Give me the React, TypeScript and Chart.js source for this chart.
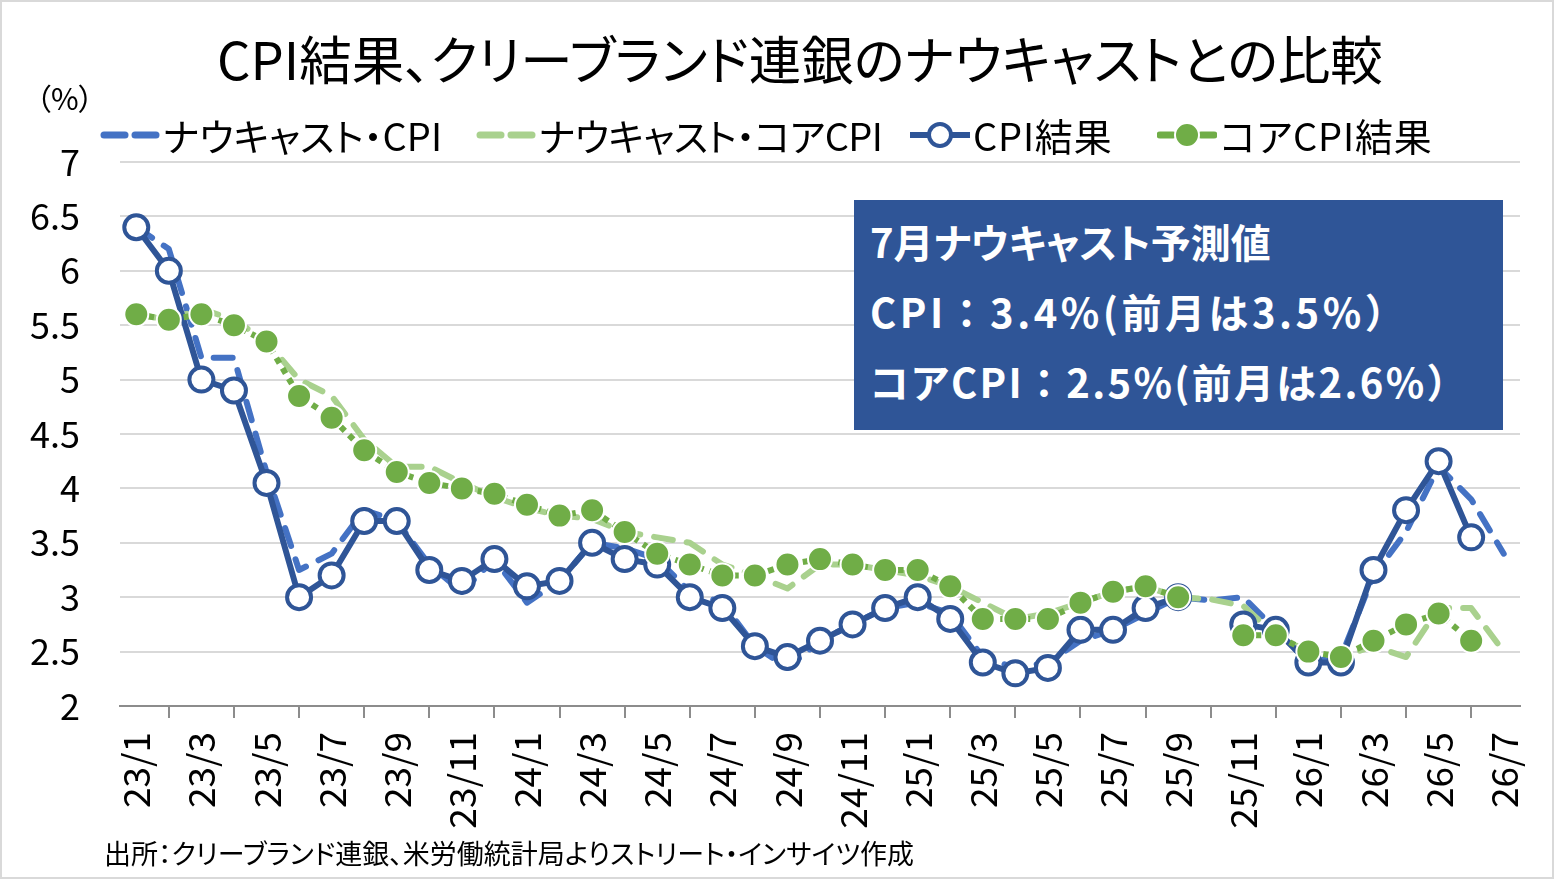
import React, { useEffect, useRef } from "react";
import { Chart, registerables } from "chart.js";

Chart.register(...registerables);

// ---- data ----
const categories = [
  "23/1", "23/2", "23/3", "23/4", "23/5", "23/6", "23/7", "23/8", "23/9", "23/10", "23/11", "23/12",
  "24/1", "24/2", "24/3", "24/4", "24/5", "24/6", "24/7", "24/8", "24/9", "24/10", "24/11", "24/12",
  "25/1", "25/2", "25/3", "25/4", "25/5", "25/6", "25/7", "25/8", "25/9", "25/10", "25/11", "25/12",
  "26/1", "26/2", "26/3", "26/4", "26/5", "26/6", "26/7",
];

const nowcastCpi = [
  6.4, 6.2, 5.2, 5.2, 4.15, 3.25, 3.4, 3.8, 3.7, 3.3, 3.05, 3.35,
  2.95, 3.15, 3.5, 3.45, 3.35, 3.05, 2.95, 2.55, 2.35, 2.6, 2.75, 2.9,
  2.95, 2.85, 2.45, 2.35, 2.4, 2.6, 2.7, 2.85, 3.0, 2.97, 3.0, 2.7,
  2.4, 2.45, 3.2, 3.6, 4.2, 3.9, 3.4,
];

const nowcastCore = [
  5.6, 5.55, 5.65, 5.55, 5.35, 5.0, 4.85, 4.45, 4.2, 4.2, 4.05, 3.92,
  3.82, 3.75, 3.72, 3.6, 3.55, 3.5, 3.3, 3.2, 3.08, 3.3, 3.3, 3.25,
  3.2, 3.1, 2.95, 2.8, 2.85, 2.95, 3.05, 3.1, 3.0, 2.98, 2.92, 2.65,
  2.5, 2.45, 2.55, 2.45, 2.9, 2.9, 2.5,
];

const cpiResult = [
  6.4, 6.0, 5.0, 4.9, 4.05, 3.0, 3.2, 3.7, 3.7, 3.25, 3.15, 3.35,
  3.1, 3.15, 3.5, 3.35, 3.3, 3.0, 2.9, 2.55, 2.45, 2.6, 2.75, 2.9,
  3.0, 2.8, 2.4, 2.3, 2.35, 2.7, 2.7, 2.9, 3.0, null, 2.75, 2.7,
  2.4, 2.4, 3.25, 3.8, 4.25, 3.55, null,
];

const coreResult = [
  5.6, 5.55, 5.6, 5.5, 5.35, 4.85, 4.65, 4.35, 4.15, 4.05, 4.0, 3.95,
  3.85, 3.75, 3.8, 3.6, 3.4, 3.3, 3.2, 3.2, 3.3, 3.35, 3.3, 3.25,
  3.25, 3.1, 2.8, 2.8, 2.8, 2.95, 3.05, 3.1, 3.0, null, 2.65, 2.65,
  2.5, 2.45, 2.6, 2.75, 2.85, 2.6, null,
];

const yMin = 2;
const yMax = 7;
const yStep = 0.5;

const seriesLabels = ["ナウキャスト・CPI", "ナウキャスト・コアCPI", "CPI結果", "コアCPI結果"];
const titleText = "CPI結果、クリーブランド連銀のナウキャストとの比較";
const unitText = "（%）";
const boxTitle = "7月ナウキャスト予測値";
const boxLine2 = "CPI：3.4%(前月は3.5%）";
const boxLine3Prefix = "コア";
const boxLine3 = "CPI：2.5%(前月は2.6%）";
const sourceText = "出所：クリーブランド連銀、米労働統計局よりストリート・インサイツ作成";

// ---- style ----
const FONT = "'Noto Sans CJK JP', 'Noto Sans', sans-serif";
const C_NOW_CPI = "#4472C4";
const C_NOW_CORE = "#A9D18E";
const C_CPI = "#2F5597";
const C_CORE = "#70AD47";

function LegendSymbol({ kind }: { kind: number }) {
  if (kind === 0 || kind === 1) {
    const c = kind === 0 ? C_NOW_CPI : C_NOW_CORE;
    return (
      <svg width="60" height="20" style={{ display: "block" }}>
        <line x1="4" y1="10" x2="25" y2="10" stroke={c} strokeWidth="7" strokeLinecap="round" />
        <line x1="35" y1="10" x2="56" y2="10" stroke={c} strokeWidth="7" strokeLinecap="round" />
      </svg>
    );
  }
  if (kind === 2) {
    return (
      <svg width="60" height="32" style={{ display: "block" }}>
        <line x1="0" y1="16" x2="60" y2="16" stroke={C_CPI} strokeWidth="6" />
        <circle cx="30" cy="16" r="11" fill="#fff" stroke={C_CPI} strokeWidth="4" />
      </svg>
    );
  }
  return (
    <svg width="60" height="32" style={{ display: "block" }}>
      <line x1="3" y1="16" x2="16" y2="16" stroke={C_CORE} strokeWidth="7" strokeLinecap="round" />
      <line x1="44" y1="16" x2="57" y2="16" stroke={C_CORE} strokeWidth="7" strokeLinecap="round" />
      <circle cx="30" cy="16" r="12" fill={C_CORE} stroke="#fff" strokeWidth="2" />
    </svg>
  );
}

export default function App() {
  const canvasRef = useRef<HTMLCanvasElement | null>(null);

  useEffect(() => {
    const canvas = canvasRef.current;
    if (!canvas) return;
    const chart = new Chart(canvas, {
      type: "line",
      data: {
        labels: categories,
        datasets: [
          {
            label: seriesLabels[0],
            data: nowcastCpi,
            borderColor: C_NOW_CPI,
            borderWidth: 6,
            borderDash: [19, 14],
            borderCapStyle: "round",
            borderJoinStyle: "round",
            pointRadius: 0,
            pointHoverRadius: 0,
            fill: false,
            tension: 0,
            order: 4,
          },
          {
            label: seriesLabels[1],
            data: nowcastCore,
            borderColor: C_NOW_CORE,
            borderWidth: 6,
            borderDash: [19, 14],
            borderCapStyle: "round",
            borderJoinStyle: "round",
            pointRadius: 0,
            pointHoverRadius: 0,
            fill: false,
            tension: 0,
            order: 3,
          },
          {
            label: seriesLabels[2],
            data: cpiResult,
            borderColor: C_CPI,
            borderWidth: 6,
            borderJoinStyle: "round",
            pointRadius: 12,
            pointHoverRadius: 12,
            pointBorderWidth: 4,
            pointBackgroundColor: "#ffffff",
            pointBorderColor: C_CPI,
            spanGaps: false,
            fill: false,
            tension: 0,
            order: 2,
          },
          {
            label: seriesLabels[3],
            data: coreResult,
            borderColor: C_CORE,
            borderWidth: 6,
            borderDash: [6, 6],
            pointRadius: 12,
            pointHoverRadius: 12,
            pointBorderWidth: 2,
            pointBackgroundColor: C_CORE,
            pointBorderColor: "#ffffff",
            spanGaps: false,
            fill: false,
            tension: 0,
            order: 1,
          },
        ],
      },
      options: {
        animation: false,
        responsive: false,
        devicePixelRatio: 1,
        events: [],
        layout: { padding: { left: 0, right: 34, top: 162, bottom: 0 } },
        plugins: {
          legend: { display: false },
          title: { display: false },
          tooltip: { enabled: false },
        },
        scales: {
          x: {
            type: "category",
            offset: true,
            afterFit: (scale: any) => {
              scale.height = 173;
              scale.paddingLeft = 0;
              scale.paddingRight = 0;
            },
            grid: {
              display: true,
              offset: true,
              drawOnChartArea: false,
              drawTicks: true,
              tickLength: 12,
              color: "#8c8c8c",
              lineWidth: 2,
            },
            border: { display: true, color: "#8c8c8c", width: 2 },
            ticks: {
              autoSkip: false,
              minRotation: 90,
              maxRotation: 90,
              padding: 14,
              color: "#000000",
              font: { family: FONT, size: 37 },
              callback: (_v: any, i: number) => (i % 2 === 0 ? categories[i] : null),
            },
          },
          y: {
            min: yMin,
            max: yMax,
            afterFit: (scale: any) => {
              scale.width = 120;
            },
            grid: {
              color: "#d9d9d9",
              lineWidth: 2,
              drawTicks: false,
            },
            border: { display: false },
            ticks: {
              stepSize: yStep,
              padding: 40,
              color: "#000000",
              font: { family: FONT, size: 36 },
              callback: (v: any) => String(Number(v)),
            },
          },
        },
      },
    });
    return () => chart.destroy();
  }, []);

  const legendLefts = [100, 476, 910, 1157];

  return (
    <div
      style={{
        position: "absolute",
        left: 0,
        top: 0,
        width: 1554,
        height: 879,
        background: "#ffffff",
        overflow: "hidden",
        fontFamily: FONT,
      }}
    >
      <canvas ref={canvasRef} width={1554} height={879} style={{ position: "absolute", left: 0, top: 0 }} />
      <div
        style={{
          position: "absolute",
          left: 0,
          top: 0,
          width: 1554,
          height: 879,
          boxSizing: "border-box",
          border: "2px solid #d9d9d9",
          pointerEvents: "none",
        }}
      />
      <div
        style={{
          position: "absolute",
          left: 0,
          width: 1600,
          top: 22,
          textAlign: "center",
          fontSize: 52.5,
          lineHeight: "70px",
          color: "#000",
          whiteSpace: "nowrap",
          fontFeatureSettings: "'palt'",
        }}
      >
        {titleText}
      </div>
      <div
        style={{
          position: "absolute",
          left: 36,
          top: 80,
          fontSize: 30,
          lineHeight: "34px",
          color: "#000",
          fontFeatureSettings: "'palt'",
        }}
      >
        {unitText}
      </div>
      {seriesLabels.map((lab, i) => (
        <div
          key={lab}
          style={{
            position: "absolute",
            left: legendLefts[i],
            top: 110,
            height: 50,
            display: "flex",
            alignItems: "center",
            whiteSpace: "nowrap",
          }}
        >
          <LegendSymbol kind={i} />
          <span
            style={{
              marginLeft: 3,
              fontSize: 38,
              lineHeight: "50px",
              color: "#000",
              fontFeatureSettings: "'palt'",
              letterSpacing: i === 1 ? -0.6 : i >= 2 ? 0.8 : 0,
            }}
          >
            {lab}
          </span>
        </div>
      ))}
      <div
        style={{
          position: "absolute",
          left: 854,
          top: 200,
          width: 649,
          height: 230,
          background: C_CPI,
          color: "#ffffff",
          fontWeight: 700,
          boxSizing: "border-box",
          paddingLeft: 16,
          paddingTop: 6,
        }}
      >
        <div style={{ fontSize: 40, lineHeight: "70px", whiteSpace: "nowrap", fontFeatureSettings: "'palt'" }}>
          {boxTitle}
        </div>
        <div style={{ fontSize: 40, lineHeight: "70px", whiteSpace: "nowrap", letterSpacing: 3.5 }}>{boxLine2}</div>
        <div style={{ fontSize: 40, lineHeight: "70px", whiteSpace: "nowrap", letterSpacing: 2.3 }}>
          <span style={{ fontFeatureSettings: "'palt'" }}>{boxLine3Prefix}</span>
          {boxLine3}
        </div>
      </div>
      <div
        style={{
          position: "absolute",
          left: 104,
          top: 835,
          fontSize: 27,
          lineHeight: "36px",
          color: "#000",
          whiteSpace: "nowrap",
          fontFeatureSettings: "'palt'",
        }}
      >
        {sourceText}
      </div>
    </div>
  );
}
